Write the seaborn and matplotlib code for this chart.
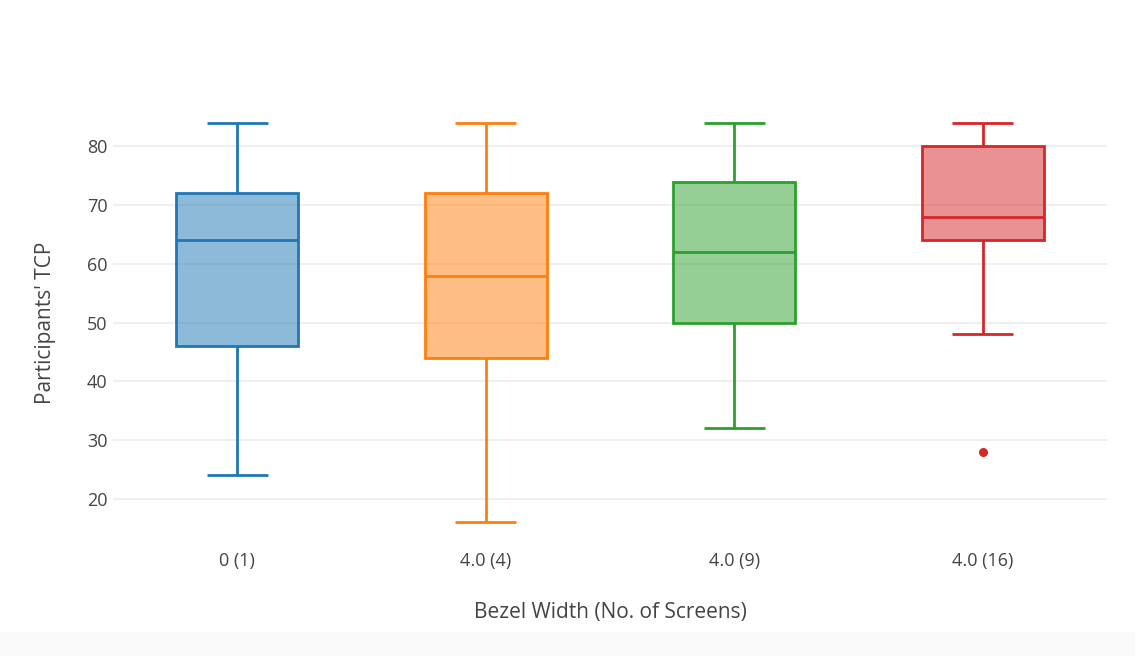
import numpy as np
import pandas as pd
import matplotlib
matplotlib.use("Agg")
import matplotlib.pyplot as plt
from matplotlib.colors import to_rgba
from matplotlib.patches import Rectangle
import seaborn as sns

# TCP scores per bezel-width / screen-count condition
groups = ["0 (1)", "4.0 (4)", "4.0 (9)", "4.0 (16)"]
tcp_1 = [24, 46, 64, 72, 84]
tcp_4 = [16, 44, 58, 72, 84]
tcp_9 = [32, 50, 62, 74, 84]
tcp_16 = [28, 48, 64, 64, 68, 80, 80, 84, 84]
colors = ["#1f77b4", "#ff7f0e", "#2ca02c", "#d62728"]
yticks = [20, 30, 40, 50, 60, 70, 80]

df = pd.DataFrame({
    "group": sum([[g] * len(v) for g, v in zip(groups, [tcp_1, tcp_4, tcp_9, tcp_16])], []),
    "tcp": tcp_1 + tcp_4 + tcp_9 + tcp_16,
})

sns.set_theme(style="white")
plt.rcParams["font.family"] = ["Open Sans", "DejaVu Sans"]
text_color = "#444444"
lw = 2.0

fig = plt.figure(figsize=(11.35, 6.56), dpi=100)
fig.patches.append(Rectangle((0, 0), 1, 24 / 656, transform=fig.transFigure,
                             facecolor="#fafafa", edgecolor="none", zorder=0))
ax = fig.add_axes([113 / 1135, 114 / 656, 994 / 1135, 439 / 656])

sns.boxplot(data=df, x="group", y="tcp", hue="group", order=groups,
            palette=colors, saturation=1, width=0.49, whis=1.5,
            linewidth=lw, fliersize=6.5, legend=False, ax=ax,
            flierprops=dict(marker="o", markeredgewidth=0))

# translucent fill with solid outline, all lines in the box colour
for patch, c in zip(ax.patches, colors):
    patch.set_facecolor(to_rgba(c, 0.5))
    patch.set_edgecolor(c)
    patch.set_linewidth(lw)
for line in ax.lines:
    xd = np.asarray(line.get_xdata(), dtype=float)
    if xd.size == 0:
        continue
    idx = int(round(np.mean(xd)))
    c = colors[idx]
    line.set_color(c)
    line.set_markerfacecolor(c)
    line.set_markeredgecolor(c)
    line.set_solid_capstyle("butt")

ax.set_ylim(12.6, 87.4)
ax.set_yticks(yticks)
ax.yaxis.grid(True, color="#eeeeee", linewidth=1.3)
ax.set_axisbelow(True)
for s in ax.spines.values():
    s.set_visible(False)
ax.tick_params(axis="both", length=0, labelsize=13, colors=text_color)
ax.tick_params(axis="y", pad=4)
ax.tick_params(axis="x", pad=7)
ax.set_xlabel("Bezel Width (No. of Screens)", fontsize=15, color=text_color, labelpad=23)
ax.set_ylabel("Participants' TCP", fontsize=15, color=text_color, labelpad=22)

fig.savefig("out.png", dpi=100)
